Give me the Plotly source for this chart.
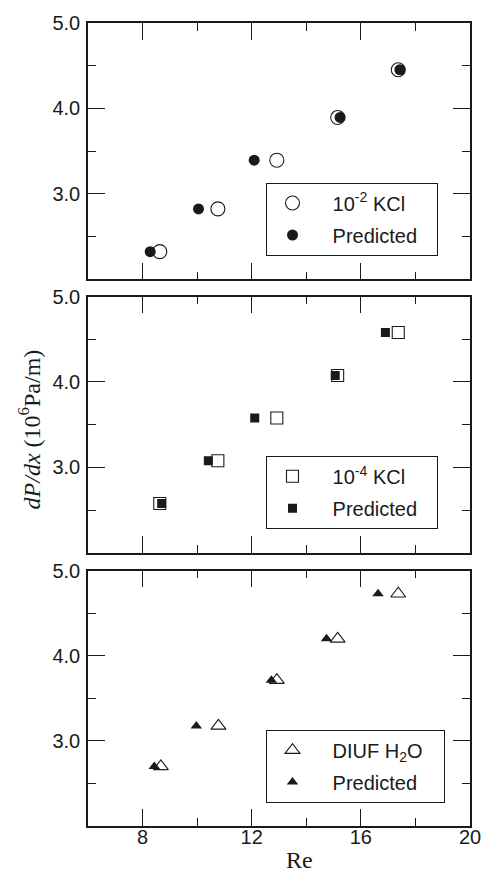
import plotly.graph_objects as go

# ---- data ----
re_kcl2_exp = [8.63, 10.76, 12.92, 15.15, 17.37]
dp_kcl2_exp = [2.325, 2.825, 3.395, 3.895, 4.453]
re_kcl2_pred = [8.28, 10.05, 12.09, 15.24, 17.43]
dp_kcl2_pred = [2.325, 2.825, 3.395, 3.895, 4.453]

re_kcl4_exp = [8.63, 10.76, 12.92, 15.15, 17.37]
dp_kcl4_exp = [2.576, 3.077, 3.578, 4.075, 4.58]
re_kcl4_pred = [8.70, 10.41, 12.11, 15.06, 16.90]
dp_kcl4_pred = [2.576, 3.077, 3.578, 4.075, 4.58]

re_h2o_exp = [8.67, 10.78, 12.92, 15.15, 17.37]
dp_h2o_exp = [2.70, 3.176, 3.713, 4.198, 4.728]
re_h2o_pred = [8.43, 9.97, 12.72, 14.74, 16.63]
dp_h2o_pred = [2.70, 3.176, 3.713, 4.198, 4.728]

x_ticks = [8, 12, 16, 20]
x_minor = [10, 14, 18]
y_ticks = [3, 4, 5]
y_ticktext = ["3.0", "4.0", "5.0"]
y_minor = [2.5, 3.5, 4.5]

W, H = 493, 878
ML, MR, MT, MB = 88, 17, 18, 52
PW = W - ML - MR
PH = H - MT - MB


def py(px):
    return (H - MB - px) / PH


def pxx(px):
    return (px - ML) / PW


sans = "Liberation Sans, Arial, sans-serif"
serif = "Liberation Serif, Times New Roman, serif"
ink = "#1a1a1a"
nb = "\u00a0"
thin = "\u2009"
lead = nb * 2 + thin

fig = go.Figure()

panels = [
    ("x", "y", "legend", "circle-open", "circle", 14, 11,
     re_kcl2_exp, dp_kcl2_exp, re_kcl2_pred, dp_kcl2_pred, "10<sup>-2</sup> KCl", nb * 2 + thin),
    ("x2", "y2", "legend2", "square-open", "square", 12, 9,
     re_kcl4_exp, dp_kcl4_exp, re_kcl4_pred, dp_kcl4_pred, "10<sup>-4</sup> KCl", nb * 2 + thin),
    ("x3", "y3", "legend3", "triangle-up-open", "triangle-up", 13, 10,
     re_h2o_exp, dp_h2o_exp, re_h2o_pred, dp_h2o_pred, "DIUF H<sub>2</sub>O", nb * 3),
]

for i, (xa, ya, lg, sym_o, sym_f, s_o, s_f, xe, ye, xp, yp, name, trail) in enumerate(panels):
    fig.add_trace(go.Scatter(
        x=xe, y=ye, mode="markers", name=lead + name + trail, xaxis=xa, yaxis=ya, legend=lg,
        legendgroup="e%d" % i,
        marker=dict(symbol=sym_o, size=s_o, color=ink, line=dict(width=1.1, color=ink)),
    ))
    fig.add_trace(go.Scatter(
        x=xp, y=yp, mode="markers", name=lead + "Predicted" + trail, xaxis=xa, yaxis=ya,
        legend=lg, legendgroup="p%d" % i,
        marker=dict(symbol=sym_f, size=s_f, color=ink, line=dict(width=0)),
    ))

domains = [(py(276), py(18)), (py(551), py(293.3)), (py(826), py(569))]

common_x = dict(
    range=[6, 20], tickvals=x_ticks, ticks="inside", ticklen=17, tickwidth=1,
    tickcolor=ink, showline=True, linecolor=ink, linewidth=1.6, mirror="ticks",
    showgrid=False, zeroline=False,
    minor=dict(tickvals=x_minor, ticks="inside", ticklen=8, tickwidth=1, tickcolor=ink),
    tickfont=dict(family=sans, size=20, color=ink),
)
common_y = dict(
    range=[2, 5], tickvals=y_ticks, ticktext=y_ticktext, ticks="inside", ticklen=17,
    tickwidth=1, tickcolor=ink, showline=True, linecolor=ink, linewidth=1.6,
    mirror="ticks", showgrid=False, zeroline=False,
    minor=dict(tickvals=y_minor, ticks="inside", ticklen=8, tickwidth=1, tickcolor=ink),
    tickfont=dict(family=sans, size=20, color=ink), ticklabelstandoff=2,
)

fig.update_layout(
    xaxis=dict(common_x, anchor="y", showticklabels=False),
    xaxis2=dict(common_x, anchor="y2", matches="x", showticklabels=False),
    xaxis3=dict(common_x, anchor="y3", matches="x", showticklabels=True, ticklabelstandoff=-8),
    yaxis=dict(common_y, anchor="x", domain=list(domains[0])),
    yaxis2=dict(common_y, anchor="x2", domain=list(domains[1])),
    yaxis3=dict(common_y, anchor="x3", domain=list(domains[2])),
)

legend_common = dict(
    xanchor="left", yanchor="top", bgcolor="white", bordercolor=ink, borderwidth=1,
    font=dict(family=sans, size=20, color=ink), itemwidth=40,
    traceorder="grouped", tracegroupgap=3,
)
fig.update_layout(
    legend=dict(legend_common, x=pxx(269.3), y=py(178.5)),
    legend2=dict(legend_common, x=pxx(269.3), y=py(453.5)),
    legend3=dict(legend_common, x=pxx(269.3), y=py(729)),
)

fig.add_annotation(
    text="<i>dP/dx</i> (10<sup>6</sup>Pa/m)", xref="paper", yref="paper",
    x=pxx(29), y=py(427), xanchor="center", yanchor="middle", textangle=-90,
    showarrow=False, font=dict(family=serif, size=24, color=ink),
)
fig.add_annotation(
    text="Re", xref="paper", yref="paper", x=pxx(303), y=py(860),
    xanchor="center", yanchor="middle",
    showarrow=False, font=dict(family=serif, size=24, color=ink),
)

fig.update_layout(
    width=W, height=H, margin=dict(l=ML, r=MR, t=MT, b=MB),
    paper_bgcolor="white", plot_bgcolor="white", showlegend=True,
)

fig.write_html(
    "out.html",
    config={"displayModeBar": False},
    post_script="document.body.style.margin='0';document.body.style.overflow='hidden';",
)
